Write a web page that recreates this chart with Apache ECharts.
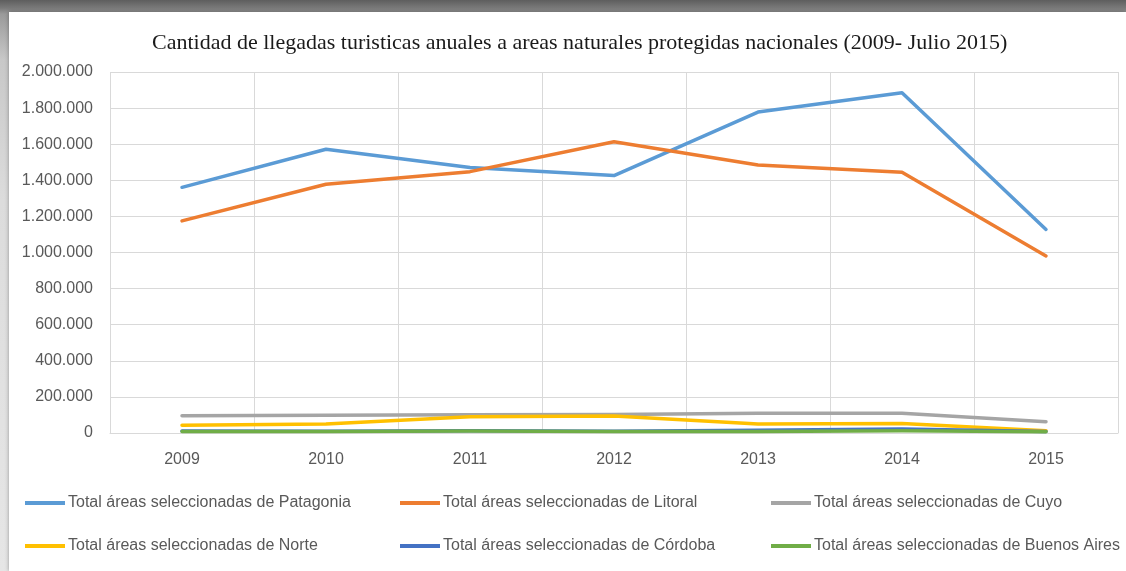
<!DOCTYPE html>
<html>
<head>
<meta charset="utf-8">
<script src="https://cdn.jsdelivr.net/npm/echarts@6/dist/echarts.min.js"></script>
<style>
html,body{margin:0;padding:0;width:1126px;height:571px;overflow:hidden;}
body{background:linear-gradient(to bottom,#5e5e5e 0px,#7a7a7a 8px,#9a9a9a 14px,#c8c8c8 60px,#dcdcdc 200px,#e6e6e6 571px);}
#frame{position:absolute;left:9px;top:12px;width:1117px;height:559px;background:#fff;box-shadow:0 0 4px rgba(0,0,0,0.35);}
#chart{position:absolute;left:0;top:0;width:1126px;height:571px;}
</style>
</head>
<body>
<div id="frame"></div>
<div id="chart"></div>
<script>
const titleText = 'Cantidad de llegadas turisticas anuales a areas naturales protegidas nacionales (2009- Julio 2015)';
const years = ['2009','2010','2011','2012','2013','2014','2015'];
const seriesNames = [
  'Total áreas seleccionadas de Patagonia',
  'Total áreas seleccionadas de Litoral',
  'Total áreas seleccionadas de Cuyo',
  'Total áreas seleccionadas de Norte',
  'Total áreas seleccionadas de Córdoba',
  'Total áreas seleccionadas de Buenos Aires'
];
const patagonia = [1361000, 1572000, 1471000, 1426000, 1778000, 1885000, 1128000];
const litoral   = [1175000, 1378000, 1448000, 1614000, 1485000, 1444000, 981000];
const cuyo      = [95000, 98000, 101000, 103000, 109000, 109000, 63000];
const norte     = [43000, 50000, 90000, 94000, 50000, 53000, 13000];
const cordoba   = [11000, 10000, 12000, 10000, 15000, 22000, 9000];
const buenosAires = [9000, 9000, 11000, 9000, 9000, 12000, 7000];
const seriesData = [patagonia, litoral, cuyo, norte, cordoba, buenosAires];
const colors = ['#5B9BD5','#ED7D31','#A5A5A5','#FFC000','#4472C4','#70AD47'];
const yMin = 0, yMax = 2000000, yStep = 200000;

const legendPos = [[25,495],[400,495],[771,495],[25,538],[400,538],[771,538]];
const fontSans = '"Liberation Sans", Arial, sans-serif';

const chart = echarts.init(document.getElementById('chart'), null, {renderer:'canvas'});
const option = {
  animation: false,
  color: colors,
  title: {
    text: titleText,
    left: 147,
    top: 27,
    textStyle: {fontFamily: '"Liberation Serif", "Times New Roman", serif', fontSize: 22, fontWeight: 'normal', color: '#1a1a1a'}
  },
  legend: seriesNames.map((n, i) => ({
    data: [n],
    left: legendPos[i][0],
    top: legendPos[i][1],
    icon: 'rect',
    itemWidth: 40,
    itemHeight: 4,
    itemGap: 4,
    padding: 0,
    textStyle: {fontFamily: fontSans, fontSize: 16, color: '#595959', padding: [0,0,0,-2]}
  })),
  grid: {left: 110, right: 8, top: 72, bottom: 138, containLabel: false},
  xAxis: {
    type: 'category',
    data: years,
    boundaryGap: true,
    axisLine: {show: true, lineStyle: {color: '#d9d9d9', width: 1}},
    axisTick: {show: false},
    axisLabel: {fontFamily: fontSans, fontSize: 16, color: '#595959', margin: 19},
    splitLine: {show: true, lineStyle: {color: '#d9d9d9', width: 1}}
  },
  yAxis: {
    type: 'value',
    min: yMin, max: yMax, interval: yStep,
    axisLine: {show: false},
    axisTick: {show: false},
    axisLabel: {
      fontFamily: fontSans, fontSize: 16, color: '#595959', margin: 17,
      formatter: v => String(v).replace(/\B(?=(\d{3})+(?!\d))/g, '.')
    },
    splitLine: {show: true, lineStyle: {color: '#d9d9d9', width: 1}}
  },
  series: seriesNames.map((n, i) => ({
    name: n,
    type: 'line',
    data: seriesData[i],
    showSymbol: false,
    symbol: 'none',
    lineStyle: {width: 3.5, color: colors[i], cap: 'round', join: 'round'},
    itemStyle: {color: colors[i]}
  }))
};
chart.setOption(option);
</script>
</body>
</html>
